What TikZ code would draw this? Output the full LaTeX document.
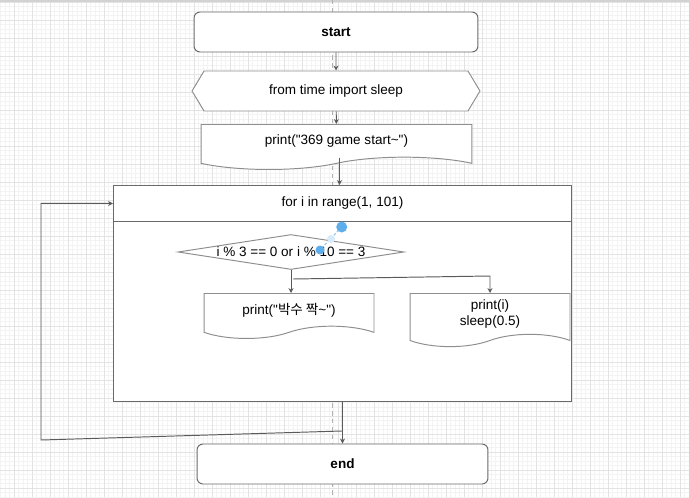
\documentclass[tikz,border=0pt]{standalone}
\usepackage{fontspec}
\setmainfont{Liberation Sans}[Ligatures=TeXOff]
\newfontfamily\krfont{Noto Sans CJK KR}
\usetikzlibrary{shapes.geometric,shapes.symbols,arrows.meta}
\definecolor{gridmajor}{HTML}{E3E3E3}
\definecolor{gridminor}{HTML}{F3F3F3}
\definecolor{shapeline}{HTML}{8E8E8E}
\definecolor{boxline}{HTML}{6A6A6A}
\definecolor{wireline}{HTML}{5A5A5A}
\definecolor{handle}{HTML}{5EAEEB}

\begin{document}
\begin{tikzpicture}[x=0.02cm,y=-0.02cm,
    every node/.style={font=\fontsize{7.7}{9.4}\selectfont, line width=0.55pt},
    terminal/.style={draw=boxline, fill=white, rounded corners=0.12cm, minimum width=5.68cm, minimum height=0.8cm, font=\fontsize{7.7}{9.4}\selectfont\bfseries},
    prep/.style={signal, signal to=west and east, signal pointer angle=118, draw=shapeline, fill=white, minimum width=5.76cm, minimum height=0.8cm},
    doc/.style={tape, tape bend top=none, tape bend bottom=in and out, tape bend height=7pt, draw=shapeline, fill=white, minimum height=0.9cm, align=center},
    cond/.style={diamond, aspect=6.5, inner sep=0pt, draw=shapeline, fill=white, minimum width=4.52cm, minimum height=0.7cm},
    wire/.style={draw=wireline, line width=0.55pt},
    arr/.style={wire, -{Stealth[length=2.8pt,width=2.8pt]}}]
    \useasboundingbox (0,0) rectangle (689,497);
    % canvas grid
    \fill[white] (0,0) rectangle (689,497);
    \foreach \gx in {0,...,152}
    \draw[gridminor, line width=0.4pt] (0.8+\gx*4.5,0) -- (0.8+\gx*4.5,497);
    \foreach \gy in {0,...,110}
    \draw[gridminor, line width=0.4pt] (0,2.3+\gy*4.5) -- (689,2.3+\gy*4.5);
    \foreach \gx in {0,...,37}
    \draw[gridmajor, line width=0.55pt] (14.3+\gx*18,0) -- (14.3+\gx*18,497);
    \foreach \gy in {0,...,27}
    \draw[gridmajor, line width=0.55pt] (0,2.3+\gy*18) -- (689,2.3+\gy*18);
    \draw[gray!35, line width=1.2pt] (0,1) -- (689,1);
    \draw[gray!60, line width=0.5pt, dash pattern=on 2.5pt off 2pt] (332.5,0) -- (332.5,497);

    % flowchart
    \node[terminal] (start) at (336,32) {start};
    \node[prep] (imp) at (336,91) {from time import sleep};
    \node[doc, minimum width=5.42cm, anchor=north] (hello) at (336.5,124) {print("369 game start\textasciitilde")};

    \node[draw=boxline, fill=white, inner sep=0pt, minimum width=9.16cm, minimum height=4.32cm, anchor=north west] (loop) at (113,185) {};
    \node[draw=boxline, minimum width=9.16cm, minimum height=0.72cm, anchor=north west] (loophead) at (113,185) {for i in range(1, 101)};

    \node[cond] (test) at (291,252) {i \% 3 == 0 or i \% 10 == 3};
    \node[doc, minimum width=3.4cm, anchor=north] (clap) at (289,293) {print("{\krfont 박수 짝}\textasciitilde")};
    \node[doc, minimum width=3.2cm, anchor=north] (show) at (490,293) {print(i)\\sleep(0.5)};

    \node[terminal, minimum width=5.82cm] (finish) at (342.5,464) {end};

    \draw[arr] (start) -- (imp);
    \draw[arr] (imp) -- (hello);
    \draw[arr] ([xshift=0.06cm]hello.south) -- ([xshift=0.06cm]hello.south |- loophead.north);
    \draw[arr] (test.south) -- (test.south |- clap.north);
    \coordinate (split) at (293,279);
    \coordinate (turn) at (490,276);
    \draw[arr] (split) -- (turn) -- (show.north);
    \draw[arr] (loop.south) -- (finish.north);
    \coordinate (loopout) at (342,431);
    \coordinate (loopfar) at (41,440);
    \draw[arr] (loopout) -- (loopfar) -- (loopfar |- loophead.west) -- (loophead.west);

    % selected edge handles
    \coordinate (hA) at (341.7,227);
    \coordinate (hB) at (320,250);
    \coordinate (hM) at (331,239);
    \draw[handle!70, line width=0.6pt, dash pattern=on 1.5pt off 1pt] (hA) -- (hB);
    \fill[handle!25] (hM) circle (4);
    \fill[handle] (hA) circle (5.5);
    \fill[handle] (hB) circle (4.5);
  \end{tikzpicture}
\end{document}
